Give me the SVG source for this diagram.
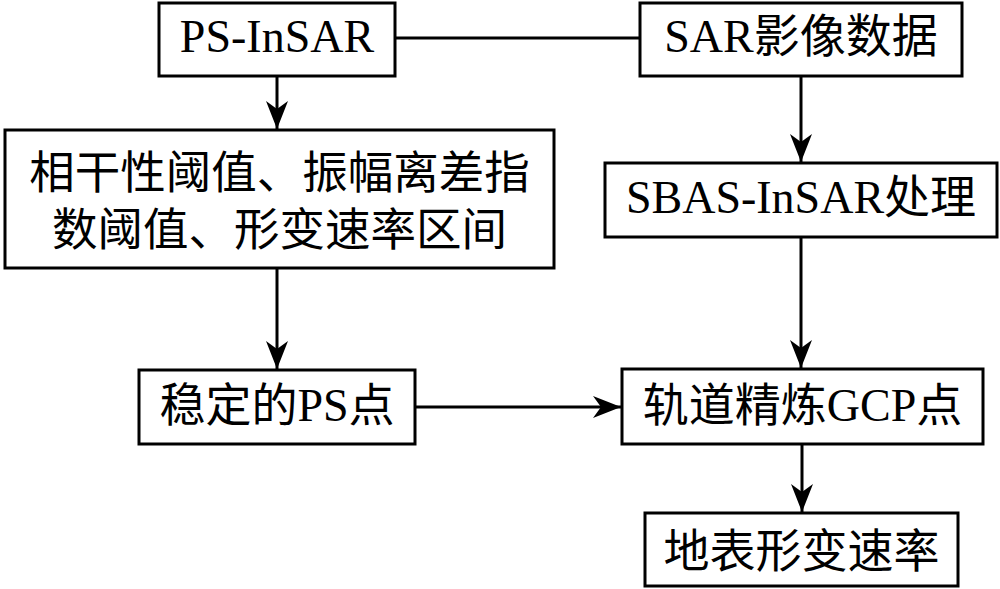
<svg xmlns="http://www.w3.org/2000/svg" width="1000" height="589" viewBox="0 0 1000 589">
<style>
.box{fill:#fff;stroke:#000;stroke-width:3}
.lbl{font-family:"Liberation Serif","Noto Sans CJK SC",serif;font-size:46px;fill:#000;text-anchor:middle}
.lbl2{font-size:45.5px}
.con{fill:none;stroke:#000;stroke-width:3}
</style>
<defs>
<marker id="arr" markerUnits="userSpaceOnUse" viewBox="0 0 28 22" markerWidth="28" markerHeight="22" refX="28" refY="11" orient="auto">
<path d="M0,0 L28,11 L0,22 L8,11 Z" fill="#000"/>
</marker>
</defs>
<rect width="1000" height="589" fill="#fff"/>
<g id="connectors">
<line class="con" x1="395" y1="38" x2="640" y2="38"/>
<line class="con" x1="277" y1="76" x2="277" y2="129" marker-end="url(#arr)"/>
<line class="con" x1="801" y1="76" x2="801" y2="162" marker-end="url(#arr)"/>
<line class="con" x1="277" y1="268" x2="277" y2="369" marker-end="url(#arr)"/>
<line class="con" x1="801" y1="237" x2="801" y2="368" marker-end="url(#arr)"/>
<line class="con" x1="415" y1="407" x2="621" y2="407" marker-end="url(#arr)"/>
<line class="con" x1="802" y1="444" x2="802" y2="512" marker-end="url(#arr)"/>
</g>
<g id="n1">
<rect class="box" x="159" y="3" width="236" height="73"/>
<text class="lbl" x="277" y="52">PS-InSAR</text>
</g>
<g id="n2">
<rect class="box" x="640" y="3" width="322" height="73"/>
<text class="lbl" x="801" y="52">SAR影像数据</text>
</g>
<g id="n3">
<rect class="box" x="5" y="130" width="549" height="138"/>
<text class="lbl lbl2" x="279.5" y="189">相干性阈值、振幅离差指</text>
<text class="lbl lbl2" x="279.5" y="246">数阈值、形变速率区间</text>
</g>
<g id="n4">
<rect class="box" x="605" y="163" width="392" height="74"/>
<text class="lbl" x="801" y="213">SBAS-InSAR处理</text>
</g>
<g id="n5">
<rect class="box" x="139" y="370" width="276" height="74"/>
<text class="lbl" x="277" y="421">稳定的PS点</text>
</g>
<g id="n6">
<rect class="box" x="622" y="369" width="361" height="75"/>
<text class="lbl" x="802.5" y="421">轨道精炼GCP点</text>
</g>
<g id="n7">
<rect class="box" x="645" y="513" width="313" height="73"/>
<text class="lbl" x="801.5" y="567">地表形变速率</text>
</g>
</svg>
